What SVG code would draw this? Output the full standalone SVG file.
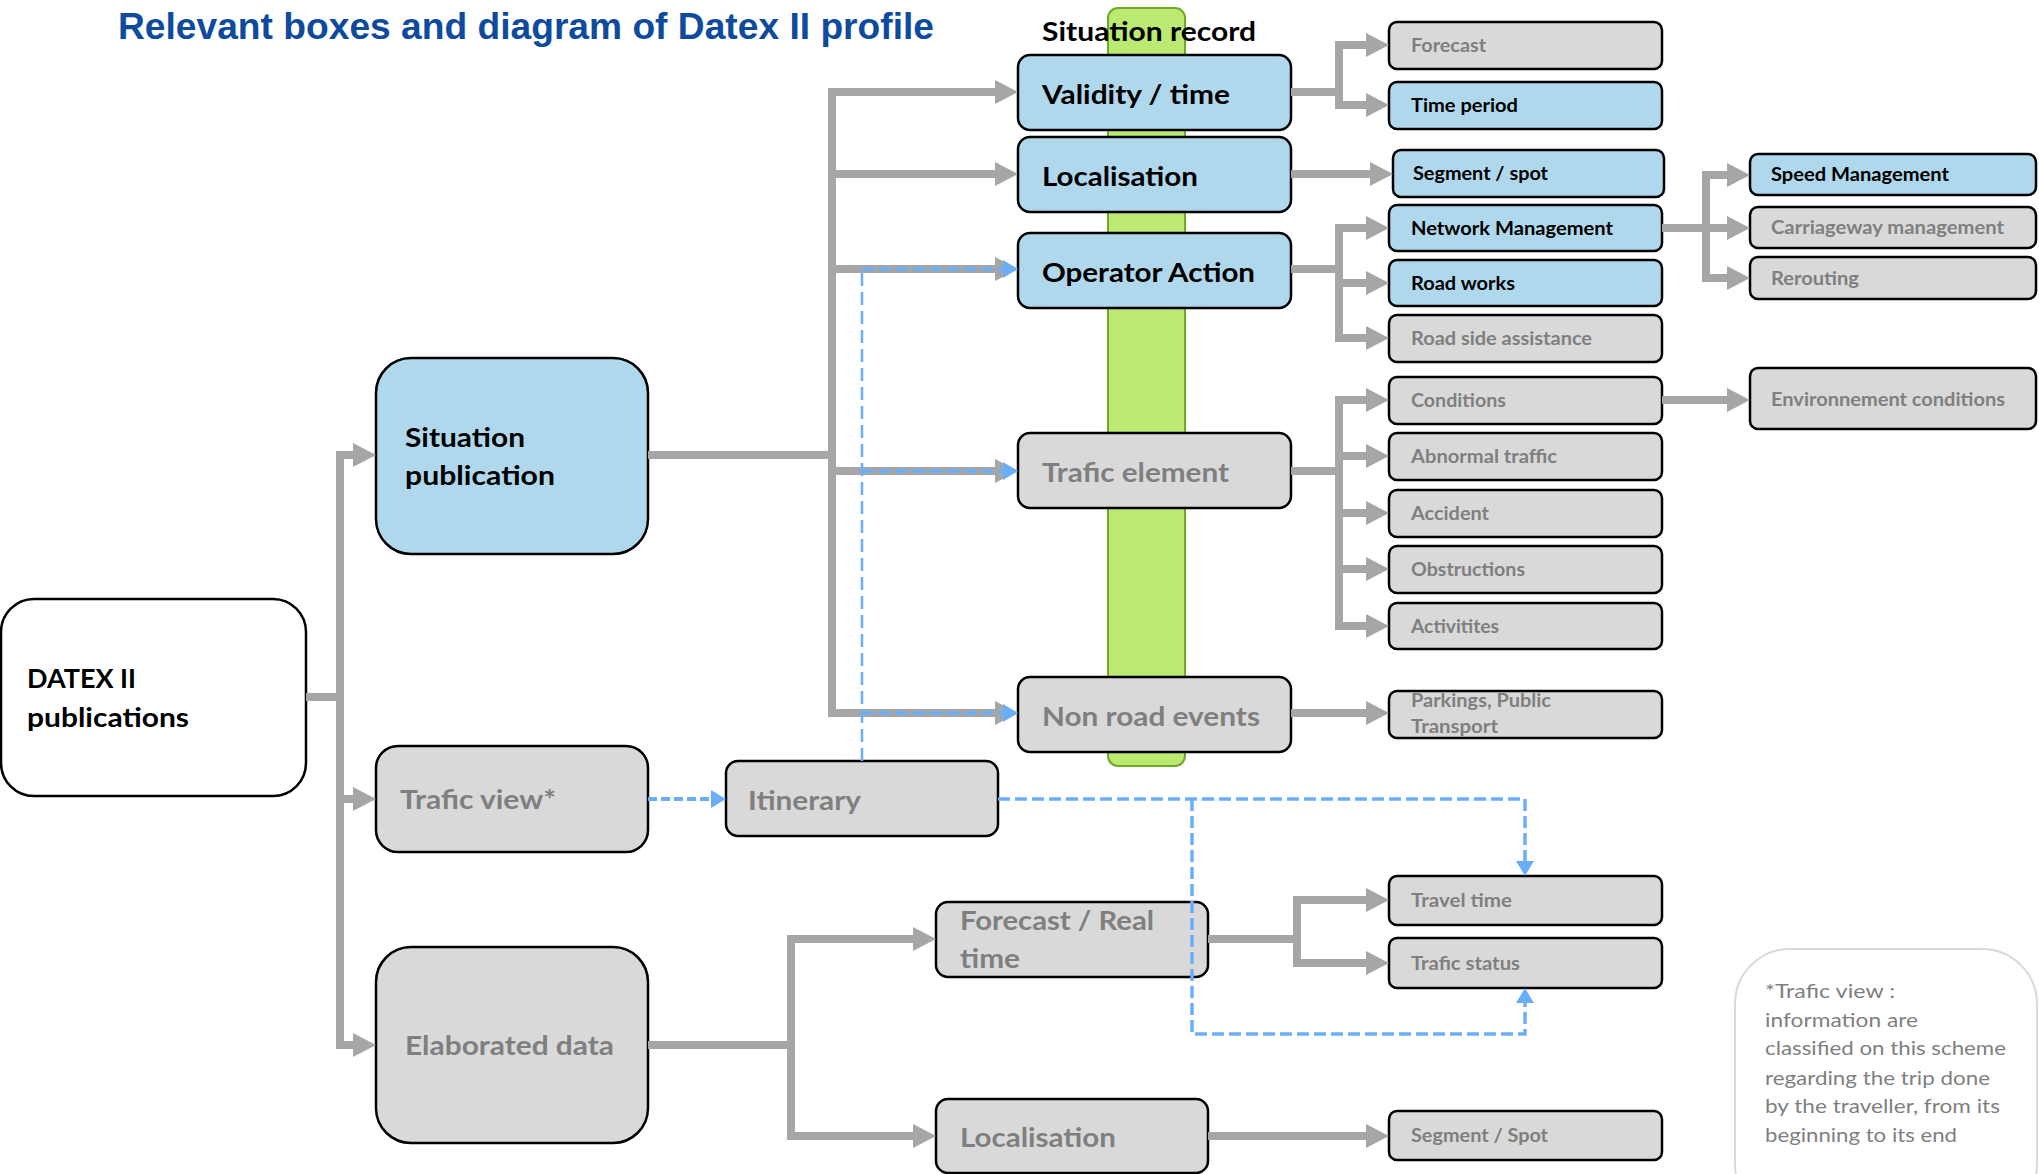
<svg xmlns="http://www.w3.org/2000/svg" width="2039" height="1174" viewBox="0 0 2039 1174">
<style>
.bx{stroke:#000;stroke-width:2.5}
.blue{fill:#B0D8EC}
.gray{fill:#D9D9D9}
.wh{fill:#FFFFFF}
.t{font-family:Lato,'Liberation Sans',sans-serif;font-weight:bold}
.big{font-size:27px}
.sm{font-size:19px}
.dk{fill:#000}
.gt{fill:#7F7F7F}
.note{font-family:Lato,'Liberation Sans',sans-serif;font-size:20px;fill:#7F7F7F}
.g{fill:none;stroke:#A6A6A6;stroke-width:8;stroke-linejoin:miter}
.ga{fill:none;stroke:#A6A6A6;stroke-width:8;stroke-linejoin:miter;marker-end:url(#ag)}
.bd{fill:none;stroke:#6AAEF8;stroke-width:3.5;stroke-dasharray:12 5}
.bda{fill:none;stroke:#6AAEF8;stroke-width:3.5;stroke-dasharray:12 5;marker-end:url(#ab)}
.bt{fill:none;stroke:#6AAEF8;stroke-width:2.5;stroke-dasharray:13 6}
</style>
<defs>
<marker id="ag" viewBox="0 0 23 24" refX="1" refY="12" markerWidth="23" markerHeight="24" markerUnits="userSpaceOnUse" orient="auto"><path d="M0,0 L23,12 L0,24 z" fill="#A6A6A6"/></marker>
<marker id="ab" viewBox="0 0 15 18" refX="1" refY="9" markerWidth="15" markerHeight="18" markerUnits="userSpaceOnUse" orient="auto"><path d="M0,0 L15,9 L0,18 z" fill="#6AAEF8"/></marker>
</defs>
<rect width="2039" height="1174" fill="#FFFFFF"/>
<text x="118" y="39" font-family="'Liberation Sans',Arial,sans-serif" font-weight="bold" font-size="36" fill="#0E4B9E" textLength="816" lengthAdjust="spacingAndGlyphs">Relevant boxes and diagram of Datex II profile</text>
<g id="green-bar"><rect x="1108" y="8" width="77" height="758" rx="10" fill="#BBEA72" stroke="#70A828" stroke-width="2"/></g>
<text class="t big dk" x="1042" y="41" textLength="214" lengthAdjust="spacingAndGlyphs">Situation record</text>

<g id="datex"><rect class="bx wh" x="1" y="599" width="305" height="197" rx="33"/><text class="t big dk" x="27" y="688" textLength="109" lengthAdjust="spacingAndGlyphs">DATEX II</text><text class="t big dk" x="27" y="727" textLength="162" lengthAdjust="spacingAndGlyphs">publications</text></g>
<g id="situation-publication"><rect class="bx blue" x="376" y="358" width="272" height="196" rx="35"/><text class="t big dk" x="405" y="447" textLength="120" lengthAdjust="spacingAndGlyphs">Situation</text><text class="t big dk" x="405" y="485" textLength="150" lengthAdjust="spacingAndGlyphs">publication</text></g>
<g id="trafic-view"><rect class="bx gray" x="376" y="746" width="272" height="106" rx="22"/><text class="t big gt" x="400" y="809" textLength="156" lengthAdjust="spacingAndGlyphs">Trafic view*</text></g>
<g id="itinerary"><rect class="bx gray" x="726" y="761" width="272" height="75" rx="12"/><text class="t big gt" x="748" y="810" textLength="113" lengthAdjust="spacingAndGlyphs">Itinerary</text></g>
<g id="elaborated-data"><rect class="bx gray" x="376" y="947" width="272" height="196" rx="35"/><text class="t big gt" x="405" y="1055" textLength="209" lengthAdjust="spacingAndGlyphs">Elaborated data</text></g>
<g id="forecast-real-time"><rect class="bx gray" x="936" y="902" width="272" height="75" rx="12"/><text class="t big gt" x="960" y="930" textLength="194" lengthAdjust="spacingAndGlyphs">Forecast / Real</text><text class="t big gt" x="960" y="968" textLength="60" lengthAdjust="spacingAndGlyphs">time</text></g>
<g id="localisation-2"><rect class="bx gray" x="936" y="1099" width="272" height="74" rx="12"/><text class="t big gt" x="960" y="1147" textLength="156" lengthAdjust="spacingAndGlyphs">Localisation</text></g>

<g id="validity"><rect class="bx blue" x="1018" y="55" width="273" height="75" rx="12"/><text class="t big dk" x="1042" y="104" textLength="188" lengthAdjust="spacingAndGlyphs">Validity / time</text></g>
<g id="localisation"><rect class="bx blue" x="1018" y="137" width="273" height="75" rx="12"/><text class="t big dk" x="1042" y="186" textLength="156" lengthAdjust="spacingAndGlyphs">Localisation</text></g>
<g id="operator-action"><rect class="bx blue" x="1018" y="233" width="273" height="75" rx="12"/><text class="t big dk" x="1042" y="282" textLength="213" lengthAdjust="spacingAndGlyphs">Operator Action</text></g>
<g id="trafic-element"><rect class="bx gray" x="1018" y="433" width="273" height="75" rx="12"/><text class="t big gt" x="1042" y="482" textLength="187" lengthAdjust="spacingAndGlyphs">Trafic element</text></g>
<g id="non-road-events"><rect class="bx gray" x="1018" y="677" width="273" height="75" rx="12"/><text class="t big gt" x="1042" y="726" textLength="218" lengthAdjust="spacingAndGlyphs">Non road events</text></g>

<g id="forecast"><rect class="bx gray" x="1389" y="22" width="273" height="47" rx="8"/><text class="t sm gt" x="1411" y="52" textLength="75" lengthAdjust="spacingAndGlyphs">Forecast</text></g>
<g id="time-period"><rect class="bx blue" x="1389" y="82" width="273" height="47" rx="8"/><text class="t sm dk" x="1411" y="112" textLength="107" lengthAdjust="spacingAndGlyphs">Time period</text></g>
<g id="segment-spot"><rect class="bx blue" x="1393" y="150" width="271" height="47" rx="8"/><text class="t sm dk" x="1413" y="180" textLength="135" lengthAdjust="spacingAndGlyphs">Segment / spot</text></g>
<g id="network-management"><rect class="bx blue" x="1389" y="205" width="273" height="46" rx="8"/><text class="t sm dk" x="1411" y="235" textLength="202" lengthAdjust="spacingAndGlyphs">Network Management</text></g>
<g id="road-works"><rect class="bx blue" x="1389" y="260" width="273" height="46" rx="8"/><text class="t sm dk" x="1411" y="290" textLength="104" lengthAdjust="spacingAndGlyphs">Road works</text></g>
<g id="road-side-assistance"><rect class="bx gray" x="1389" y="315" width="273" height="47" rx="8"/><text class="t sm gt" x="1411" y="345" textLength="181" lengthAdjust="spacingAndGlyphs">Road side assistance</text></g>
<g id="conditions"><rect class="bx gray" x="1389" y="377" width="273" height="47" rx="8"/><text class="t sm gt" x="1411" y="407" textLength="95" lengthAdjust="spacingAndGlyphs">Conditions</text></g>
<g id="abnormal-traffic"><rect class="bx gray" x="1389" y="433" width="273" height="47" rx="8"/><text class="t sm gt" x="1411" y="463" textLength="146" lengthAdjust="spacingAndGlyphs">Abnormal traffic</text></g>
<g id="accident"><rect class="bx gray" x="1389" y="490" width="273" height="47" rx="8"/><text class="t sm gt" x="1411" y="520" textLength="78" lengthAdjust="spacingAndGlyphs">Accident</text></g>
<g id="obstructions"><rect class="bx gray" x="1389" y="546" width="273" height="47" rx="8"/><text class="t sm gt" x="1411" y="576" textLength="114" lengthAdjust="spacingAndGlyphs">Obstructions</text></g>
<g id="activitites"><rect class="bx gray" x="1389" y="603" width="273" height="46" rx="8"/><text class="t sm gt" x="1411" y="633" textLength="88" lengthAdjust="spacingAndGlyphs">Activitites</text></g>
<g id="parkings"><rect class="bx gray" x="1389" y="691" width="273" height="47" rx="8"/><text class="t sm gt" x="1411" y="707" textLength="140" lengthAdjust="spacingAndGlyphs">Parkings, Public</text><text class="t sm gt" x="1411" y="733" textLength="87" lengthAdjust="spacingAndGlyphs">Transport</text></g>
<g id="travel-time"><rect class="bx gray" x="1389" y="876" width="273" height="49" rx="8"/><text class="t sm gt" x="1411" y="907" textLength="101" lengthAdjust="spacingAndGlyphs">Travel time</text></g>
<g id="trafic-status"><rect class="bx gray" x="1389" y="938" width="273" height="50" rx="8"/><text class="t sm gt" x="1411" y="970" textLength="109" lengthAdjust="spacingAndGlyphs">Trafic status</text></g>
<g id="segment-spot-2"><rect class="bx gray" x="1389" y="1111" width="273" height="49" rx="8"/><text class="t sm gt" x="1411" y="1142" textLength="137" lengthAdjust="spacingAndGlyphs">Segment / Spot</text></g>

<g id="speed-management"><rect class="bx blue" x="1750" y="154" width="286" height="41" rx="8"/><text class="t sm dk" x="1771" y="181" textLength="178" lengthAdjust="spacingAndGlyphs">Speed Management</text></g>
<g id="carriageway-management"><rect class="bx gray" x="1750" y="207" width="286" height="41" rx="8"/><text class="t sm gt" x="1771" y="234" textLength="233" lengthAdjust="spacingAndGlyphs">Carriageway management</text></g>
<g id="rerouting"><rect class="bx gray" x="1750" y="257" width="286" height="42" rx="8"/><text class="t sm gt" x="1771" y="285" textLength="88" lengthAdjust="spacingAndGlyphs">Rerouting</text></g>
<g id="environnement-conditions"><rect class="bx gray" x="1750" y="368" width="286" height="61" rx="8"/><text class="t sm gt" x="1771" y="406" textLength="234" lengthAdjust="spacingAndGlyphs">Environnement conditions</text></g>

<g id="note"><rect x="1735" y="949" width="302" height="270" rx="55" fill="#FFFFFF" stroke="#D9D9D9" stroke-width="2"/>
<text class="note" x="1765" y="998" textLength="130" lengthAdjust="spacingAndGlyphs">*Trafic view :</text>
<text class="note" x="1765" y="1027" textLength="153" lengthAdjust="spacingAndGlyphs">information are</text>
<text class="note" x="1765" y="1055" textLength="241" lengthAdjust="spacingAndGlyphs">classified on this scheme</text>
<text class="note" x="1765" y="1085" textLength="225" lengthAdjust="spacingAndGlyphs">regarding the trip done</text>
<text class="note" x="1765" y="1113" textLength="235" lengthAdjust="spacingAndGlyphs">by the traveller, from its</text>
<text class="note" x="1765" y="1142" textLength="192" lengthAdjust="spacingAndGlyphs">beginning to its end</text>
</g>

<g id="connectors">
<path class="g" d="M306,697 H340"/>
<path class="ga" d="M340,697 V455 H354"/>
<path class="ga" d="M340,697 V799 H354"/>
<path class="ga" d="M340,799 V1045 H354"/>
<path class="g" d="M648,455 H832"/>
<path class="ga" d="M832,455 V92 H996"/>
<path class="ga" d="M832,174 H996"/>
<path class="ga" d="M832,269 H996"/>
<path class="ga" d="M832,455 V713 H996"/>
<path class="ga" d="M832,471 H996"/>
<path class="g" d="M1291,92 H1339"/>
<path class="ga" d="M1339,92 V45 H1367"/>
<path class="ga" d="M1339,92 V105 H1367"/>
<path class="ga" d="M1291,174 H1371"/>
<path class="g" d="M1291,269 H1339"/>
<path class="ga" d="M1339,269 V228 H1367"/>
<path class="ga" d="M1339,269 V338 H1367"/>
<path class="ga" d="M1339,283 H1367"/>
<path class="g" d="M1662,228 H1706"/>
<path class="ga" d="M1706,228 V175 H1728"/>
<path class="ga" d="M1706,228 V278 H1728"/>
<path class="ga" d="M1706,228 H1728"/>
<path class="g" d="M1291,471 H1339"/>
<path class="ga" d="M1339,471 V400 H1367"/>
<path class="ga" d="M1339,471 V626 H1367"/>
<path class="ga" d="M1339,456 H1367"/>
<path class="ga" d="M1339,513 H1367"/>
<path class="ga" d="M1339,569 H1367"/>
<path class="ga" d="M1662,400 H1728"/>
<path class="ga" d="M1291,713 H1367"/>
<path class="g" d="M648,1045 H791"/>
<path class="ga" d="M791,1045 V939 H914"/>
<path class="ga" d="M791,1045 V1136 H914"/>
<path class="g" d="M1208,939 H1297"/>
<path class="ga" d="M1297,939 V900 H1367"/>
<path class="ga" d="M1297,939 V963 H1367"/>
<path class="ga" d="M1208,1136 H1367"/>
<path class="bt" d="M862,761 V269"/>
<path class="bda" d="M862,269 H1004"/>
<path class="bda" d="M862,471 H1004"/>
<path class="bda" d="M862,713 H1004"/>
<path class="bda" d="M648,799 H712" style="stroke-width:4;stroke-dasharray:9 4"/>
<path class="bda" d="M998,799 H1525 V862"/>
<path class="bda" d="M1192,799 V1034 H1525 V1002"/>
</g>
</svg>
